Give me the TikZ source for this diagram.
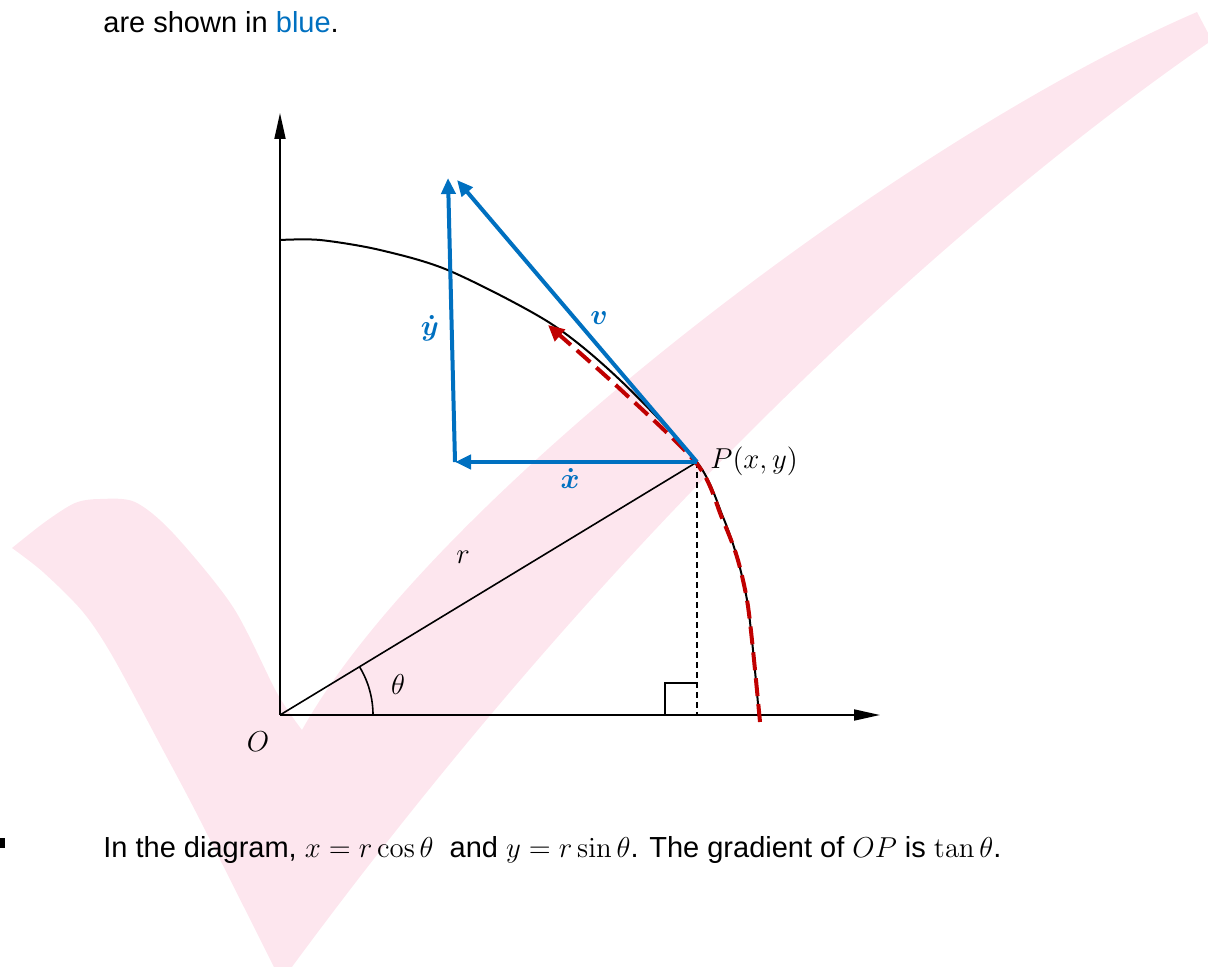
\documentclass[tikz,border=0pt]{standalone}
\usepackage{amsmath}
\usepackage[no-math]{fontspec}
\setmainfont{Liberation Sans}
\usepackage{tikz}
\usetikzlibrary{arrows.meta}
\definecolor{vblue}{RGB}{0,112,192}
\definecolor{pred}{RGB}{192,0,0}
\definecolor{tickpink}{RGB}{253,230,238}

\begin{document}
\begin{tikzpicture}[x=0.5pt,y=-0.5pt,
    axis/.style={line width=0.9pt,-{Triangle[length=13pt,width=5.5pt]}},
    vec/.style={draw=vblue,line width=2pt,-{Triangle[length=8pt,width=7pt]}},
    track/.style={draw=pred,line width=2pt,dash pattern=on 9pt off 4pt,-{Triangle[length=8pt,width=7.5pt]}},
    lab/.style={font=\fontsize{14.5}{16}\selectfont,inner sep=1pt},
    vlab/.style={lab,text=vblue},
    txt/.style={font=\fontsize{14.5}{17}\selectfont,inner sep=0pt,anchor=base west}]
  \useasboundingbox (0,0) rectangle (1208,967);
  \clip (0,0) rectangle (1208,967);
  % watermark tick
  \fill[tickpink] plot[smooth,tension=0.5] coordinates {(12,548) (45,522) (75,503) (100,499) (135,502)
      (173,533) (233,607) (277,693) (302,730)}
    .. controls (430,500) and (900,140) .. (1197,12)
    -- (1208,33) -- (1208,43)
    .. controls (960,215) and (620,520) .. (286,975)
    -- plot[smooth,tension=0.5] coordinates {(278,975) (200,820) (163,750) (113,657) (83,612) (43,572) (12,548)}
    -- cycle;
  % texts
  \node[txt] (top) at (103,33) {are shown in \textcolor{vblue}{blue}.};
  \fill (0,838) rectangle (5,848);
  \node[txt] (bot) at (103,857) {In the diagram, $x = r\cos\theta$\ \ and $y = r\sin\theta$.
    The gradient of $OP$ is $\tan\theta$.};
  % points
  \coordinate (O) at (280,715);
  \coordinate (ytip) at (280,113);
  \coordinate (xtip) at (880,715);
  \coordinate (P) at (697,462);
  \coordinate (F) at (697,715);
  \coordinate (Q) at (455,462);
  \coordinate (Ytip) at (448,178);
  \coordinate (Vtip) at (457,180);
  % axes and curve
  \draw[axis] (O) -- (ytip);
  \draw[axis] (O) -- (xtip);
  \draw[line width=1pt] plot[smooth] coordinates {(280,240) (320,240) (380,250) (450,271)
      (550,323) (620,380) (697,462) (723,517) (737,557) (747,600) (753,650) (759,715)};
  \draw[line width=0.8pt] (O) -- (P);
  \draw[line width=0.7pt,dash pattern=on 3pt off 2pt] (P) -- (F);
  \draw[line width=0.8pt] (665,715) |- (697,683);
  \draw[line width=0.8pt] (O) ++(93,0) arc[start angle=0,end angle=31.2,radius=46.5pt];
  % motion along the curve
  \draw[track] plot[smooth] coordinates {(760,722) (753,650) (747,600) (737,557)
      (722,518) (697,464) (620,389) (548,325)};
  % velocity components
  \draw[vec] (P) -- (Q);
  \draw[vec] (Q) -- (Ytip);
  \draw[vec] (P) -- (Vtip);
  % labels
  \node[lab,anchor=west] (Plab) at (708,461) {$P(x,y)$};
  \node[lab] (th) at (398,684) {$\theta$};
  \node[lab] (rl) at (463,557) {$r$};
  \node[lab] (Ol) at (258,742) {$O$};
  \node[vlab] (xd) at (570,478) {$\boldsymbol{\dot{x}}$};
  \node[vlab] (yd) at (430,328) {$\boldsymbol{\dot{y}}$};
  \node[vlab] (vl) at (599,318) {$\boldsymbol{v}$};
\end{tikzpicture}
\end{document}
